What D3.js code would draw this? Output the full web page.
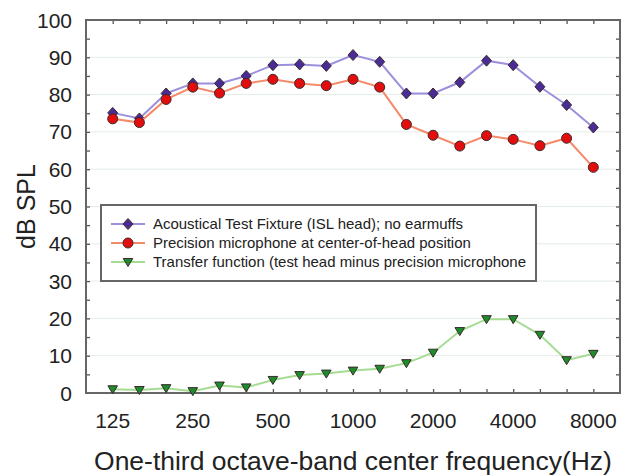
<!DOCTYPE html>
<html>
<head>
<meta charset="utf-8">
<script src="https://cdn.jsdelivr.net/npm/d3@7"></script>
<style>
  body { margin: 0; background: #fff; }
  text { font-family: "Liberation Sans", Arial, sans-serif; fill: #222; }
</style>
</head>
<body>
<div id="chart"></div>
<script>
// one-third octave bands and the three measured curves (dB SPL)
const bands = ["125", "160", "200", "250", "315", "400", "500", "630", "800", "1000",
    "1250", "1600", "2000", "2500", "3150", "4000", "5000", "6300", "8000"];
const labelledBands = ["125", "250", "500", "1000", "2000", "4000", "8000"];
const yTicks = [0, 10, 20, 30, 40, 50, 60, 70, 80, 90, 100];

const fixtureLevels = [75.1, 73.6, 80.3, 83.0, 83.0, 85.0, 87.9, 88.1, 87.7, 90.6,
    88.8, 80.3, 80.3, 83.3, 89.1, 87.9, 82.1, 77.2, 71.2];
const micLevels = [73.5, 72.5, 78.7, 82.0, 80.4, 83.0, 84.1, 83.0, 82.4, 84.1,
    82.0, 72.0, 69.1, 66.2, 69.0, 68.0, 66.3, 68.3, 60.5];
const transferLevels = [1.0, 0.8, 1.3, 0.5, 2.0, 1.5, 3.5, 4.8, 5.2, 6.0,
    6.5, 8.0, 10.8, 16.6, 19.8, 19.8, 15.6, 8.8, 10.5];

const seriesNames = [
    "Acoustical Test Fixture (ISL head); no earmuffs",
    "Precision microphone at center-of-head position",
    "Transfer function (test head minus precision microphone"
];

let svgWidth = 629;
let svgHeight = 475;
let margin = { top: 20, right: 9, bottom: 82, left: 86 };
let width = svgWidth - margin.left - margin.right;
let height = svgHeight - margin.top - margin.bottom;

var svg = d3.select("#chart")
    .append("svg")
    .attr("width", svgWidth)
    .attr("height", svgHeight);

var chartGroup = svg.append("g")
    .attr("transform", `translate(${margin.left}, ${margin.top})`);

// x is the band index, padded by one band on each side
var xScale = d3.scaleLinear().domain([-1, bands.length]).range([0, width]);
var yScale = d3.scaleLinear().domain([0, 100]).range([height, 0]);
var bandX = (d, i) => xScale(i);

// faint grid lines
chartGroup.append("g")
    .selectAll("line")
    .data(yTicks.slice(1, -1))
    .enter()
    .append("line")
    .attr("x1", 0)
    .attr("x2", width)
    .attr("y1", d => yScale(d))
    .attr("y2", d => yScale(d))
    .attr("stroke", "#e3ece8")
    .attr("stroke-width", 1);

// inward ticks on all four sides
var bandIdx = d3.range(bands.length);
var minorY = d3.range(5, 100, 5);

function styleAxis(g) {
    g.select(".domain").remove();
    g.selectAll(".tick line").attr("stroke", "#555").attr("stroke-width", 1.3);
    g.selectAll(".tick text").remove();
}

chartGroup.append("g")
    .attr("transform", `translate(0, ${height})`)
    .call(d3.axisBottom(xScale).tickValues(bandIdx).tickSize(-4))
    .call(styleAxis);
chartGroup.append("g")
    .call(d3.axisTop(xScale).tickValues(bandIdx).tickSize(-4))
    .call(styleAxis);
chartGroup.append("g")
    .call(d3.axisLeft(yScale).tickValues(minorY).tickSize(-4))
    .call(styleAxis);
chartGroup.append("g")
    .attr("transform", `translate(${width}, 0)`)
    .call(d3.axisRight(yScale).tickValues(minorY).tickSize(-4))
    .call(styleAxis);

// frame
chartGroup.append("rect")
    .attr("width", width)
    .attr("height", height)
    .attr("fill", "none")
    .attr("stroke", "#666")
    .attr("stroke-width", 2);

// tick labels
chartGroup.append("g")
    .selectAll("text")
    .data(yTicks)
    .enter()
    .append("text")
    .attr("x", -14)
    .attr("y", d => yScale(d))
    .attr("dy", "0.36em")
    .attr("text-anchor", "end")
    .attr("font-size", "21px")
    .text(d => d);

chartGroup.append("g")
    .selectAll("text")
    .data(labelledBands)
    .enter()
    .append("text")
    .attr("x", d => xScale(bands.indexOf(d)))
    .attr("y", height + 35)
    .attr("text-anchor", "middle")
    .attr("font-size", "21px")
    .text(d => d);

// axis titles
var xTitle = svg.append("text")
    .attr("x", margin.left + width / 2)
    .attr("y", 470)
    .attr("text-anchor", "middle")
    .attr("font-size", "22px")
    .text("One-third octave-band center frequency(Hz)");
var xTitleLen = xTitle.node().getComputedTextLength();
xTitle.attr("font-size", (22 * 518 / xTitleLen).toFixed(2) + "px");

svg.append("text")
    .attr("transform", `translate(35, ${margin.top + height / 2}) rotate(-90)`)
    .attr("text-anchor", "middle")
    .attr("font-size", "25px")
    .text("dB SPL");

// marker shapes
var diamond = "M0,-5.5L5,0L0,5.5L-5,0Z";
var triangle = "M-4.8,-3.5L4.8,-3.5L0,4.5Z";

var series = [
    { name: seriesNames[0], values: fixtureLevels, line: "#9c90dc", fill: "#4a2c96", shape: "diamond" },
    { name: seriesNames[1], values: micLevels, line: "#f48a6a", fill: "#e30d0d", shape: "circle" },
    { name: seriesNames[2], values: transferLevels, line: "#a6dc92", fill: "#1c8c2c", shape: "triangle" }
];

var lineGen = d3.line()
    .x(bandX)
    .y(d => yScale(d));

function addMarker(sel, s) {
    if (s.shape === "circle") {
        sel.append("circle").attr("r", 5);
    } else {
        sel.append("path").attr("d", s.shape === "diamond" ? diamond : triangle);
    }
    sel.selectAll("circle, path")
        .attr("fill", s.fill)
        .attr("stroke", "#3a2a2a")
        .attr("stroke-width", 1);
}

series.forEach(function(s) {
    chartGroup.append("path")
        .datum(s.values)
        .attr("d", lineGen)
        .attr("fill", "none")
        .attr("stroke", s.line)
        .attr("stroke-width", 2);

    chartGroup.append("g")
        .selectAll("g")
        .data(s.values)
        .enter()
        .append("g")
        .attr("transform", (d, i) => `translate(${xScale(i)}, ${yScale(d)})`)
        .each(function() { addMarker(d3.select(this), s); });
});

// legend
var legend = svg.append("g");
legend.append("rect")
    .attr("x", 101)
    .attr("y", 205)
    .attr("width", 435)
    .attr("height", 76)
    .attr("fill", "#fff")
    .attr("stroke", "#666")
    .attr("stroke-width", 2);

var legendTexts = [];
series.forEach(function(s, i) {
    var row = legend.append("g")
        .attr("transform", `translate(128, ${224 + i * 19})`);
    row.append("line")
        .attr("x1", -17)
        .attr("x2", 17)
        .attr("stroke", s.line)
        .attr("stroke-width", 2);
    addMarker(row, s);
    legendTexts.push(row.append("text")
        .attr("x", 25)
        .attr("dy", "0.36em")
        .attr("font-size", "12.5px")
        .attr("fill", "#333")
        .text(s.name));
});
// size legend text so the first entry spans the same width as the reference
var firstLen = legendTexts[0].node().getComputedTextLength();
var legendFont = (12.5 * 310 / firstLen).toFixed(2) + "px";
legendTexts.forEach(t => t.attr("font-size", legendFont));
</script>
</body>
</html>
